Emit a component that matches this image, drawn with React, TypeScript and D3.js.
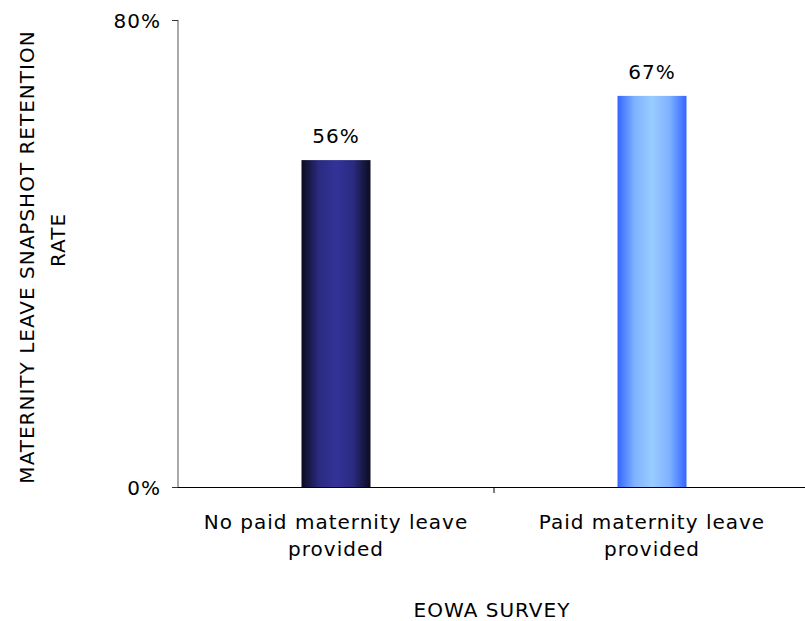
import React from "react";
import * as d3 from "d3";

const categories: string[][] = [
  ["No paid maternity leave", "provided"],
  ["Paid maternity leave", "provided"],
];
const values: number[] = [0.56, 0.67];
const valueLabels: string[] = ["56%", "67%"];
const yTicks: number[] = [0, 0.8];
const yTitleLines: string[] = ["MATERNITY LEAVE SNAPSHOT RETENTION", "RATE"];
const xTitle = "EOWA SURVEY";

const W = 805;
const H = 621;
const FONT = "'DejaVu Sans', Verdana, sans-serif";
const FS = 20;
const LS = 1;

export default function App() {
  const left = 178;
  const right = 810;
  const top = 20;
  const bottom = 487;
  const x = d3.scaleBand<number>().domain(d3.range(categories.length)).range([left, right]);
  const y = d3.scaleLinear().domain([0, 0.8]).range([bottom, top]);
  const barW = 69;
  const fmt = d3.format(".0%");
  const grads = [
    ["#0b0b1e", "#2a2a80", "#333399", "#2a2a80", "#0b0b1e"],
    ["#3366ff", "#80b3ff", "#99ccff", "#80b3ff", "#3366ff"],
  ];
  return (
    <svg width={W} height={H} style={{ position: "absolute", left: 0, top: 0, background: "#fff" }} fontFamily={FONT} letterSpacing={LS}>
      <defs>
        {grads.map((g, i) => (
          <linearGradient key={i} id={`g${i}`} x1="0" x2="1" y1="0" y2="0">
            {g.map((c, j) => (
              <stop key={j} offset={`${(j / (g.length - 1)) * 100}%`} stopColor={c} />
            ))}
          </linearGradient>
        ))}
      </defs>
      {values.map((v, i) => {
        const cx = (x(i) as number) + x.bandwidth() / 2;
        return (
          <g key={i}>
            <rect x={cx - barW / 2} y={y(v)} width={barW} height={bottom - y(v)} fill={`url(#g${i})`} />
            <text x={cx} y={y(v) - 17} textAnchor="middle" fontSize={FS} fill="#000">
              {valueLabels[i]}
            </text>
            {categories[i].map((line, k) => (
              <text key={k} x={cx} y={529 + k * 27} textAnchor="middle" fontSize={FS} fill="#000">
                {line}
              </text>
            ))}
          </g>
        );
      })}
      <line x1={left} x2={left} y1={top} y2={bottom} stroke="#555" strokeWidth={1} />
      <line x1={left - 6} x2={right} y1={bottom + 0.5} y2={bottom + 0.5} stroke="#000" strokeWidth={1.2} />
      {yTicks.map((t, i) => (
        <g key={i}>
          <line x1={left - 6} x2={left} y1={y(t) + 0.5} y2={y(t) + 0.5} stroke="#333" />
          <text x={left - 17} y={y(t) + 8} textAnchor="end" fontSize={FS} fill="#000">
            {fmt(t)}
          </text>
        </g>
      ))}
      {d3.range(1, categories.length).map((i) => (
        <line key={i} x1={x(i) as number} x2={x(i) as number} y1={bottom} y2={bottom + 6} stroke="#000" />
      ))}
      {yTitleLines.map((line, k) => (
        <text
          key={k}
          transform={`translate(${34 + k * 31},${k === 0 ? 257 : 240}) rotate(-90)`}
          textAnchor="middle"
          fontSize={FS}
          fill="#000"
        >
          {line}
        </text>
      ))}
      <text x={492} y={617} textAnchor="middle" fontSize={FS} fill="#000">
        {xTitle}
      </text>
    </svg>
  );
}
